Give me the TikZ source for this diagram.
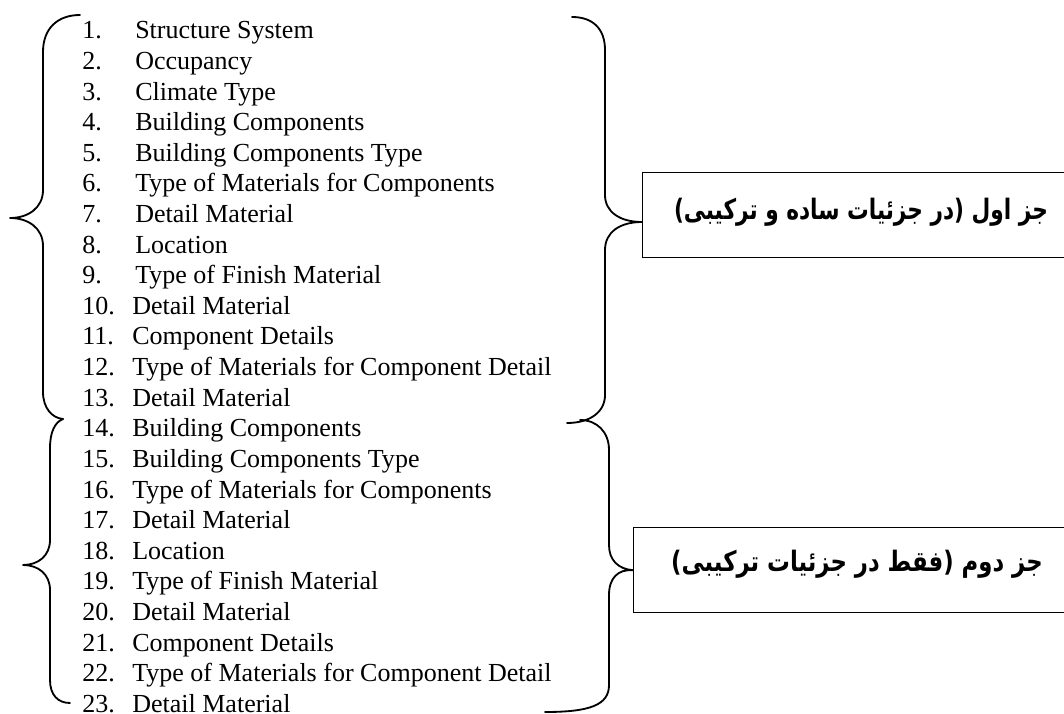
\documentclass[tikz,border=0pt]{standalone}
\usepackage{fontspec}
\usepackage{graphicx}
\setmainfont{Liberation Serif}
\newfontfamily\farsifont[Script=Arabic]{DejaVu Sans}
\TeXXeTstate=1
\usepackage{tikz}
\usetikzlibrary{positioning,calc}

\newcommand{\farsitext}[2][0.77]{\scalebox{#1}[1]{\farsifont\bfseries\fontsize{20}{24}\selectfont\beginR #2\endR}}

\tikzset{
  itemtext/.style={anchor=base west, inner sep=0pt, font=\fontsize{18.5}{22}\selectfont},
  groupbox/.style={draw, line width=1pt, rectangle, inner sep=0pt},
  grouptext/.style={inner sep=0pt},
  brace/.style={line width=1.3pt, line cap=round, line join=round}
}

\begin{document}
\begin{tikzpicture}[x=0.025cm, y=-0.025cm]
    \useasboundingbox (0,0) rectangle (1064,714);
    \clip (0,0) rectangle (1064,714);

    % list of items
    \foreach \n/\txt [evaluate=\n as \tx using {ifthenelse(\n<10,135,132)}] in {
        1/Structure System, 2/Occupancy, 3/Climate Type, 4/Building Components,
        5/Building Components Type, 6/Type of Materials for Components,
        7/Detail Material, 8/Location, 9/Type of Finish Material,
        10/Detail Material, 11/Component Details,
        12/Type of Materials for Component Detail, 13/Detail Material,
        14/Building Components, 15/Building Components Type,
        16/Type of Materials for Components, 17/Detail Material, 18/Location,
        19/Type of Finish Material, 20/Detail Material, 21/Component Details,
        22/Type of Materials for Component Detail, 23/Detail Material} {
        \node[itemtext] (num\n) at (82, {39+(\n-1)*30.6}) {\n.};
        \node[itemtext] (item\n) at (\tx, {39+(\n-1)*30.6}) {\txt};
    }

    % the two groups
    \node[groupbox, minimum width=11.6cm, minimum height=2.125cm, anchor=north west] (box1) at (642,172) {};
    \node[grouptext] (label1) at (861,212) {\farsitext{جز اول (در جزئیات ساده و ترکیبی)}};

    \node[groupbox, minimum width=11.8cm, minimum height=2.125cm, anchor=north west] (box2) at (633,527) {};
    \node[grouptext] (label2) at (857,564) {\farsitext[0.81]{جز دوم (فقط در جزئیات ترکیبی)}};

    % left braces
    \draw[brace] (80,15) .. controls (58,15) and (43,28) .. (43,52) -- (43,190)
        .. controls (43,208) and (28,218) .. (10,218)
        .. controls (28,218) and (43,228) .. (43,246) -- (43,392)
        .. controls (43,408) and (52,418) .. (63,419);
    \draw[brace] (63,419) .. controls (55,422) and (50,432) .. (50,448) -- (50,540)
        .. controls (50,556) and (38,565) .. (23,565)
        .. controls (38,565) and (50,574) .. (50,590) -- (50,680)
        .. controls (50,695) and (58,703) .. (70,703);

    % right braces
    \draw[brace] (572,17) .. controls (592,17) and (605,28) .. (605,50) -- (605,195)
        .. controls (605,212) and (620,222) .. (box1.west |- 0,222)
        .. controls (620,222) and (605,232) .. (605,250) -- (605,395)
        .. controls (605,412) and (590,423) .. (567,423);
    \draw[brace] (580,420) .. controls (597,420) and (609,432) .. (609,450) -- (609,545)
        .. controls (609,560) and (618,569) .. (box2.west)
        .. controls (618,569) and (609,578) .. (609,595) -- (609,685)
        .. controls (609,705) and (590,712) .. (545,712);
\end{tikzpicture}
\end{document}
